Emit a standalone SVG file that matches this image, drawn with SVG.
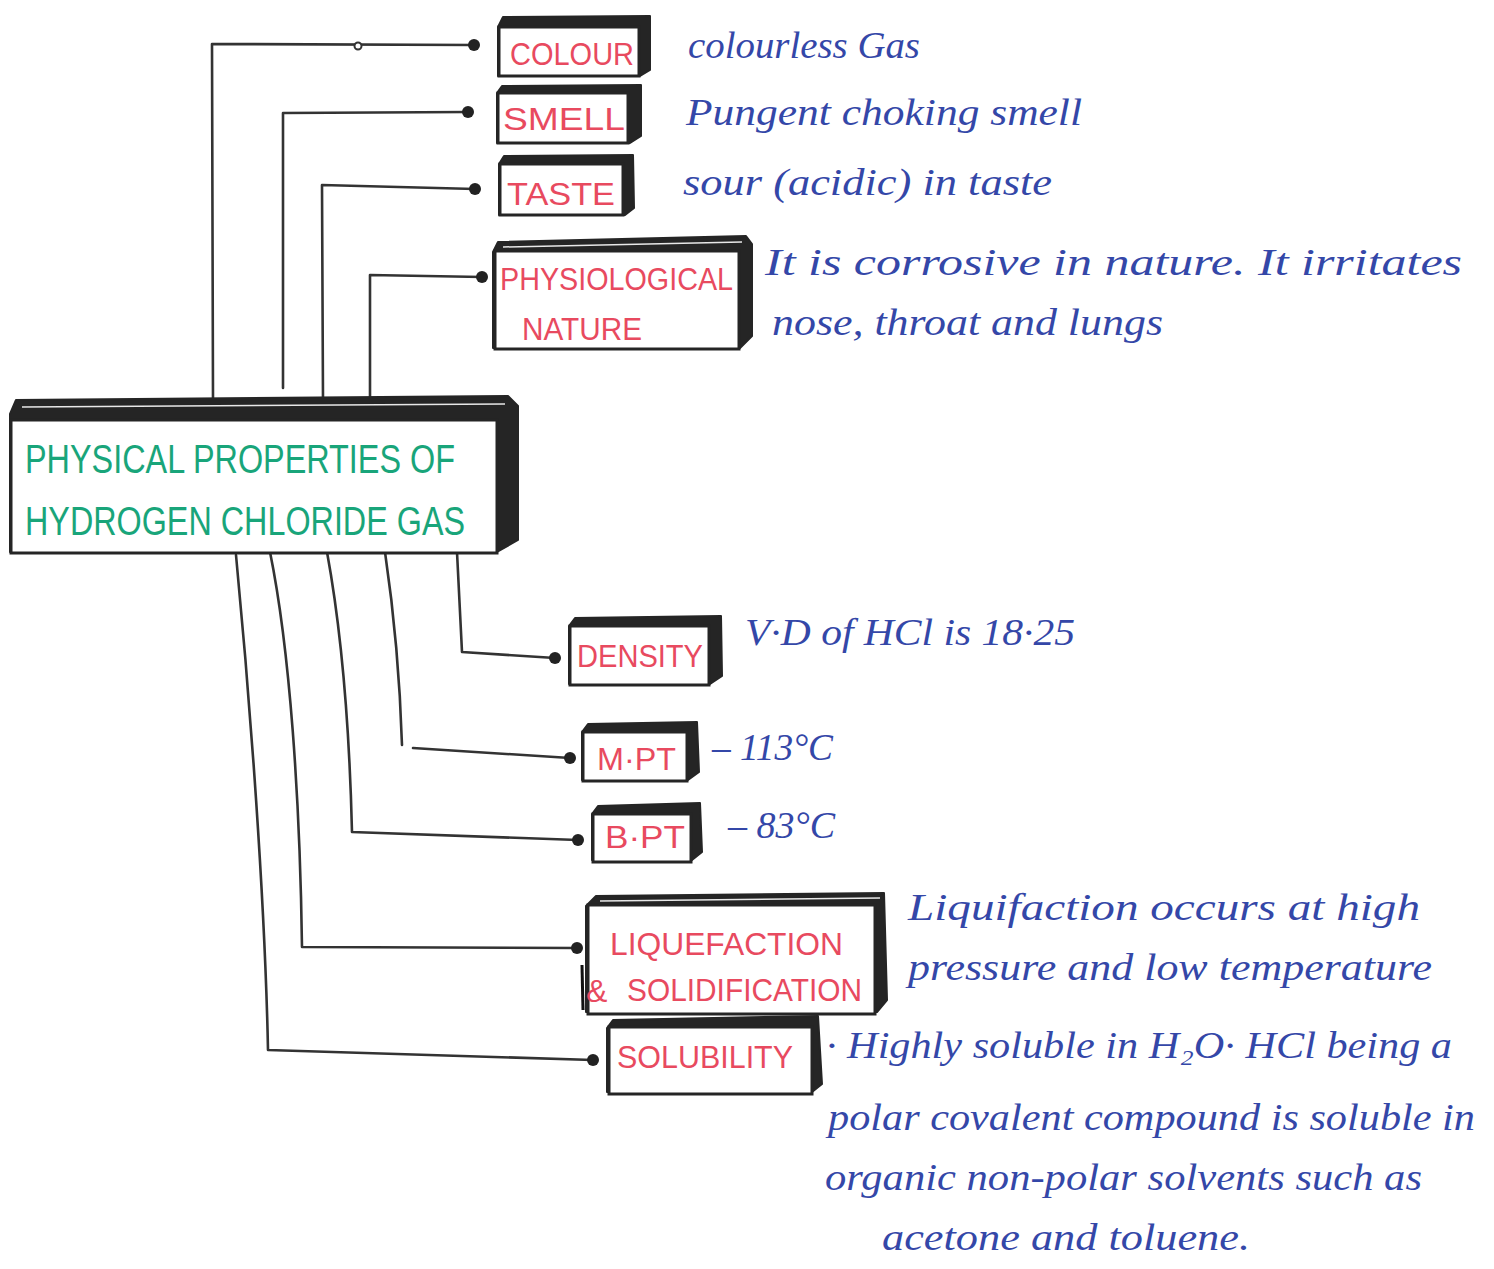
<svg xmlns="http://www.w3.org/2000/svg" width="1494" height="1269" viewBox="0 0 1494 1269">
<style>
.back{fill:#252525;stroke:#252525;stroke-width:2;stroke-linejoin:round}
.front{fill:#fff;stroke:#252525;stroke-width:3}
.hl{stroke:#e8e8e8;stroke-width:1.5}
.lbl{font-family:"Liberation Sans",Arial,sans-serif;fill:#e84a5f;font-size:32px}
.title{font-family:"Liberation Sans",Arial,sans-serif;fill:#19a57a;font-size:40px}
.desc{font-family:"Liberation Serif","Times New Roman",serif;font-style:italic;fill:#3447a8;font-size:37px}
.conn{fill:none;stroke:#333;stroke-width:2.6;stroke-linejoin:round;stroke-linecap:round}
</style>
<defs>
<marker id="dot" viewBox="0 0 14 14" refX="7" refY="7" markerWidth="14" markerHeight="14" markerUnits="userSpaceOnUse">
<circle cx="7" cy="7" r="6" fill="#222"/>
</marker>
</defs>
<rect width="1494" height="1269" fill="#fff"/>

<g id="connectors">
<path class="conn" d="M213,400 L212,44 L474,45" marker-end="url(#dot)"/>
<circle cx="358" cy="46" r="3.5" fill="#fff" stroke="#333" stroke-width="2"/>
<path class="conn" d="M283,388 L283,113 L468,112" marker-end="url(#dot)"/>
<path class="conn" d="M323,400 L322,185 L475,189" marker-end="url(#dot)"/>
<path class="conn" d="M370,400 L370,275 L482,277" marker-end="url(#dot)"/>
<path class="conn" d="M457,552 L462,652 L555,658" marker-end="url(#dot)"/>
<path class="conn" d="M385,552 C395,620 400,680 402,745 M413,748 L570,758" marker-end="url(#dot)"/>
<path class="conn" d="M327,552 C345,650 350,750 352,832 L578,840" marker-end="url(#dot)"/>
<path class="conn" d="M270,552 C290,650 300,800 302,947 L577,948" marker-end="url(#dot)"/>
<path class="conn" d="M236,555 C250,700 265,900 268,1050 L593,1060" marker-end="url(#dot)"/>
</g>

<g id="main">
<polygon class="back" points="10,414 16,400 508,396 518,406 518,540 497,552 10,552"/>
<line class="hl" x1="22" y1="407" x2="505" y2="404"/>
<rect class="front" x="11" y="420" width="486" height="133"/>
<text class="title" x="25" y="473" font-size="42" textLength="430" lengthAdjust="spacingAndGlyphs">PHYSICAL PROPERTIES OF</text>
<text class="title" x="25" y="535" font-size="38" textLength="440" lengthAdjust="spacingAndGlyphs">HYDROGEN  CHLORIDE GAS</text>
</g>

<g id="colour">
<polygon class="back" points="498,27 503,17 650,16 650,70 640,76 498,76"/>
<rect class="front" x="499" y="27" width="140" height="49"/>
<text class="lbl" x="510" y="65" font-size="38" textLength="124" lengthAdjust="spacingAndGlyphs">COLOUR</text>
<text class="desc" x="688" y="58" textLength="232" lengthAdjust="spacingAndGlyphs">colourless Gas</text>
</g>

<g id="smell">
<polygon class="back" points="497,93 502,86 641,85 641,136 630,143 497,143"/>
<rect class="front" x="498" y="93" width="130" height="50"/>
<text class="lbl" x="503" y="130" font-size="34" textLength="122" lengthAdjust="spacingAndGlyphs">SMELL</text>
<text class="desc" x="686" y="125" textLength="396" lengthAdjust="spacingAndGlyphs">Pungent choking smell</text>
</g>

<g id="taste">
<polygon class="back" points="499,164 504,156 633,155 634,208 625,215 499,215"/>
<rect class="front" x="500" y="164" width="123" height="51"/>
<text class="lbl" x="507" y="205" font-size="36" textLength="108" lengthAdjust="spacingAndGlyphs">TASTE</text>
<text class="desc" x="683" y="195" textLength="369" lengthAdjust="spacingAndGlyphs">sour (acidic) in taste</text>
</g>

<g id="physiological">
<polygon class="back" points="493,252 498,242 746,236 752,244 752,336 740,348 493,348"/>
<line class="hl" x1="503" y1="247" x2="742" y2="242"/>
<rect class="front" x="495" y="251" width="244" height="98"/>
<text class="lbl" x="500" y="290" textLength="233" lengthAdjust="spacingAndGlyphs">PHYSIOLOGICAL</text>
<text class="lbl" x="522" y="340" textLength="120" lengthAdjust="spacingAndGlyphs">NATURE</text>
<text class="desc" x="765" y="275" textLength="697" lengthAdjust="spacingAndGlyphs">It is corrosive in nature. It irritates</text>
<text class="desc" x="772" y="335" textLength="391" lengthAdjust="spacingAndGlyphs">nose, throat and lungs</text>
</g>

<g id="density">
<polygon class="back" points="569,626 575,618 721,616 722,676 710,684 569,684"/>
<rect class="front" x="570" y="626" width="139" height="59"/>
<text class="lbl" x="577" y="667" textLength="126" lengthAdjust="spacingAndGlyphs">DENSITY</text>
<text class="desc" x="745" y="645" textLength="330" lengthAdjust="spacingAndGlyphs">V·D of HCl is 18·25</text>
</g>

<g id="mpt">
<polygon class="back" points="582,732 588,724 697,722 699,772 688,780 582,780"/>
<rect class="front" x="583" y="732" width="104" height="49"/>
<text class="lbl" x="597" y="770" textLength="79" lengthAdjust="spacingAndGlyphs">M·PT</text>
<text class="desc" x="712" y="760" textLength="121" lengthAdjust="spacingAndGlyphs">– 113°C</text>
</g>

<g id="bpt">
<polygon class="back" points="592,814 598,806 700,803 702,852 692,860 592,860"/>
<rect class="front" x="593" y="814" width="98" height="48"/>
<text class="lbl" x="605" y="848" textLength="80" lengthAdjust="spacingAndGlyphs">B·PT</text>
<text class="desc" x="728" y="838" textLength="107" lengthAdjust="spacingAndGlyphs">– 83°C</text>
</g>

<g id="liquefaction">
<polygon class="back" points="586,906 596,896 884,893 887,1000 877,1012 586,1012"/>
<line class="hl" x1="600" y1="901" x2="880" y2="898"/>
<rect class="front" x="588" y="905" width="287" height="109"/>
<line x1="582" y1="965" x2="583" y2="1010" stroke="#111" stroke-width="3"/>
<text class="lbl" x="610" y="955" font-size="34" textLength="233" lengthAdjust="spacingAndGlyphs">LIQUEFACTION</text>
<text class="lbl" x="586" y="1002">&amp;</text>
<text class="lbl" x="627" y="1001" textLength="235" lengthAdjust="spacingAndGlyphs">SOLIDIFICATION</text>
<text class="desc" x="908" y="920" textLength="512" lengthAdjust="spacingAndGlyphs">Liquifaction occurs at high</text>
<text class="desc" x="908" y="980" textLength="524" lengthAdjust="spacingAndGlyphs">pressure and low temperature</text>
</g>

<g id="solubility">
<polygon class="back" points="607,1028 613,1020 818,1016 822,1084 812,1092 607,1092"/>
<rect class="front" x="609" y="1027" width="203" height="67"/>
<text class="lbl" x="617" y="1068" font-size="31" textLength="176" lengthAdjust="spacingAndGlyphs">SOLUBILITY</text>
<text class="desc" x="826" y="1058" textLength="626" lengthAdjust="spacingAndGlyphs">· Highly soluble in H₂O· HCl being a</text>
<text class="desc" x="828" y="1130" textLength="647" lengthAdjust="spacingAndGlyphs">polar covalent compound is soluble in</text>
<text class="desc" x="825" y="1190" textLength="597" lengthAdjust="spacingAndGlyphs">organic non-polar solvents such as</text>
<text class="desc" x="882" y="1250" textLength="368" lengthAdjust="spacingAndGlyphs">acetone and toluene.</text>
</g>
</svg>
